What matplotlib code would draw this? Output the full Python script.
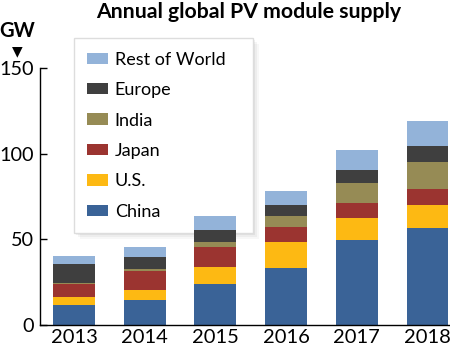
import matplotlib.pyplot as plt
import numpy as np

years = ['2013', '2014', '2015', '2016', '2017', '2018']
regions = ['China', 'U.S.', 'Japan', 'India', 'Europe', 'Rest of World']
china = [11.6, 14.7, 23.8, 33.5, 49.4, 56.4]
us = [4.9, 6.0, 10.1, 15.0, 12.8, 13.6]
japan = [7.3, 10.9, 11.6, 8.5, 8.7, 9.5]
india = [1.0, 1.0, 3.0, 6.4, 12.0, 15.3]
europe = [10.7, 7.1, 7.1, 6.4, 7.8, 9.5]
rest = [4.6, 5.8, 8.0, 8.1, 11.6, 14.9]
colors = ['#3a6397', '#fdb913', '#9b3430', '#968b55', '#3f3f3f', '#93b3d9']

plt.rcParams['font.family'] = ['Lato', 'DejaVu Sans']

fig = plt.figure(figsize=(4.5, 3.53), dpi=100)
ax = fig.add_axes([0.089, 0.079, 0.911, 0.729])
ax.patch.set_visible(False)
ax.set_zorder(3)

x = np.arange(len(years))
bottom = np.zeros(len(years))
handles = []
for vals, c, name in zip([china, us, japan, india, europe, rest], colors, regions):
    b = ax.bar(x, vals, 0.59, bottom=bottom, color=c, label=name)
    handles.append(b)
    bottom += np.array(vals)

ax.set_xlim(-0.48, 5.32)
ax.set_ylim(0, 150)
ax.set_yticks([0, 50, 100, 150])
ax.set_xticks(x)
ax.set_xticklabels(years)
ax.tick_params(axis='y', direction='in', length=5, width=1, labelsize=14.3, pad=4.5)
ax.tick_params(axis='x', length=0, labelsize=14.5, pad=3)
for s in ['top', 'right']:
    ax.spines[s].set_visible(False)
ax.spines['left'].set_linewidth(1)
ax.spines['bottom'].set_linewidth(1)

fig.text(0.553, 0.966, 'Annual global PV module supply', ha='center', va='center',
         fontsize=15.3, fontweight='bold')
fig.text(0.039, 0.912, 'GW', ha='center', va='center', fontsize=14.5, fontweight='bold')
fig.text(0.039, 0.856, '\u25bc', ha='center', va='center', fontsize=10, family='DejaVu Sans')

labels = ['China', 'U.S.', 'Japan', 'India', 'Europe', 'Rest of World   ']
leg = fig.legend(handles[::-1], labels[::-1], loc='upper left', bbox_to_anchor=(0.164, 0.892),
                 borderaxespad=0, fontsize=13, frameon=True, fancybox=False,
                 handlelength=1.17, handleheight=0.6, handletextpad=0.35,
                 labelspacing=0.8, borderpad=0.75)
leg.get_frame().set_edgecolor('#dddddd')
leg.get_frame().set_linewidth(1)
leg.get_frame().set_alpha(1)
leg.set_zorder(2)

# soft shadow behind legend
fig.canvas.draw()
bb = leg.get_window_extent().transformed(fig.transFigure.inverted())
for i, a in enumerate([0.05, 0.04, 0.03]):
    off = 2 + i * 2
    fig.patches.append(plt.Rectangle((bb.x0 + off / 450, bb.y0 - off / 353), bb.width, bb.height,
                                     transform=fig.transFigure, color='k', alpha=a, lw=0, zorder=1))

fig.savefig('out.png', dpi=100)
